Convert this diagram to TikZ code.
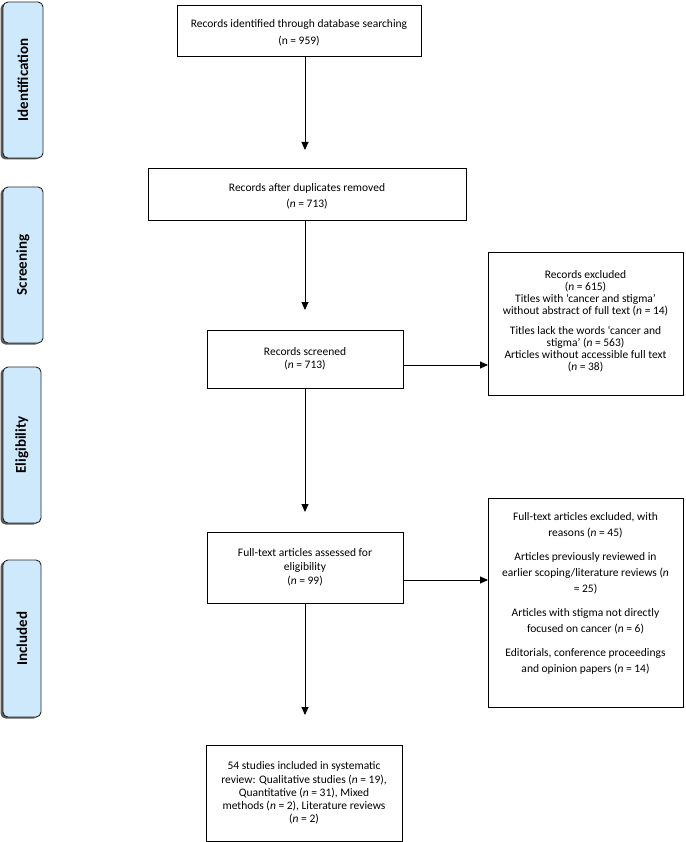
\documentclass[tikz,border=0pt]{standalone}
\usepackage{fontspec}
\setmainfont{Carlito}
\usetikzlibrary{arrows.meta}
\definecolor{sidefill}{RGB}{207,233,252}
\definecolor{shadowc}{RGB}{90,90,90}
\begin{document}
\begin{tikzpicture}[x=1pt,y=-1pt,
  box/.style={draw=black,line width=0.9pt,inner sep=0pt,outer sep=0pt,align=center,
    font=\fontsize{11.5}{14}\selectfont},
  txt/.style={inner sep=0pt,outer sep=0pt,align=center},
  side/.style={draw=black!85,line width=0.9pt,fill=sidefill,rounded corners=5pt,inner sep=0pt,outer sep=0pt},
  sidetext/.style={rotate=90,font=\fontsize{15}{18}\selectfont\bfseries},
  arr/.style={line width=0.9pt,-{Triangle[length=8pt,width=7pt]}}]
\useasboundingbox (0,0) rectangle (685,842);
\fill[white] (0,0) rectangle (685,842);
% side shadows
\foreach \cy/\cx/\w/\h in {80/23/40/156,265/23/40/156,445/22/38/156,638.5/22/38/157}{
  \fill[shadowc,rounded corners=5pt] (\cx-\w/2-2.5,\cy-\h/2+1.5) rectangle (\cx+\w/2-2.5,\cy+\h/2+1.5);
}
\node[side,minimum width=40,minimum height=156] (sid) at (23,80) {};
\node[sidetext] (sidt) at (sid.center) {Identification};
\node[side,minimum width=40,minimum height=156] (ssc) at (23,265) {};
\node[sidetext] (ssct) at (ssc.center) {Screening};
\node[side,minimum width=38,minimum height=156] (sel) at (22,445) {};
\node[sidetext] (selt) at (sel.center) {Eligibility};
\node[side,minimum width=38,minimum height=157] (sin) at (22,638.5) {};
\node[sidetext] (sint) at (sin.center) {Included};
% main boxes
\node[box,minimum width=244,minimum height=51] (b1) at (299,30.5) {};
\node[txt,font=\fontsize{11.5}{17}\selectfont] (b1t) at ([yshift=-2pt]b1.center)
  {Records identified through database searching\\(n = 959)};
\node[box,minimum width=318,minimum height=52] (b2) at (307,194) {};
\node[txt,font=\fontsize{11.5}{16}\selectfont] (b2t) at ([yshift=-2pt]b2.center)
  {Records after duplicates removed\\(\textit{n} = 713)};
\node[box,minimum width=196,minimum height=58,font=\fontsize{11.5}{13.5}\selectfont] (b3) at (305,359)
  {Records screened\\(\textit{n} = 713)};
\node[box,minimum width=196,minimum height=71] (b4) at (305,567.5)
  {Full-text articles assessed for\\eligibility\\(\textit{n} = 99)};
\node[box,minimum width=196,minimum height=96,font=\fontsize{11.5}{13.2}\selectfont] (b5) at (304,793)
  {54 studies included in systematic\\review: Qualitative studies (\textit{n} = 19),\\Quantitative (\textit{n} = 31), Mixed\\methods (\textit{n} = 2), Literature reviews\\(\textit{n} = 2)};
\node[box,minimum width=195,minimum height=143] (ex1) at (585.5,323.5) {};
\node[txt,font=\fontsize{11.5}{12}\selectfont] (ex1t) at ([yshift=2pt]ex1.center)
  {Records excluded\\(\textit{n} = 615)\\Titles with ‘cancer and stigma’\\without abstract of full text (\textit{n} = 14)\\[8pt]
   Titles lack the words ‘cancer and\\stigma’ (\textit{n} = 563)\\Articles without accessible full text\\(\textit{n} = 38)};
\node[box,minimum width=195,minimum height=209] (ex2) at (585.5,602.5) {};
\node[txt,font=\fontsize{11.5}{16}\selectfont] (ex2t) at ([yshift=9pt]ex2.center)
  {Full-text articles excluded, with\\reasons (\textit{n} = 45)\\[8pt]
   Articles previously reviewed in\\earlier scoping/literature reviews (\textit{n}\\= 25)\\[8pt]
   Articles with stigma not directly\\focused on cancer (\textit{n} = 6)\\[8pt]
   Editorials, conference proceedings\\and opinion papers (\textit{n} = 14)};
% arrows
\draw[arr,shorten >=18pt] (b1.south -| b3.north) -- (b2.north -| b3.north);
\draw[arr,shorten >=20pt] (b2.south -| b3.north) -- (b3.north);
\draw[arr,shorten >=20pt] (b3.south) -- (b4.north);
\draw[arr,shorten >=30pt] (b4.south) -- (b5.north -| b4.south);
\draw[arr] ([yshift=-6pt]b3.east) -- ([yshift=-6pt]b3.east -| ex1.west);
\draw[arr] ([yshift=-12.5pt]b4.east) -- ([yshift=-12.5pt]b4.east -| ex2.west);
\end{tikzpicture}
\end{document}
